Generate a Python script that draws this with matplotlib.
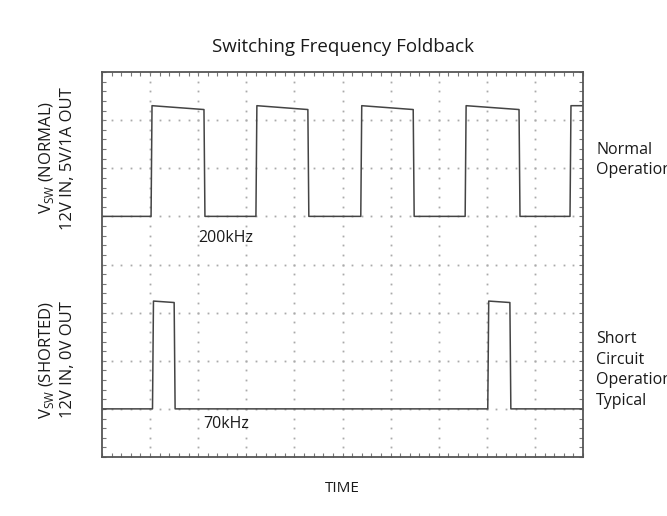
import matplotlib
matplotlib.use("Agg")
import matplotlib.pyplot as plt
import numpy as np
from matplotlib.ticker import MultipleLocator

plt.rcParams['font.family'] = ['Open Sans', 'DejaVu Sans']

# scope screen is 10 x 8 divisions, values read in divisions
n_xdiv = 10
n_ydiv = 8

# normal operation (200kHz) edges and levels
normal_edges = [1.02, 2.12, 3.20, 4.28, 5.38, 6.47, 7.55, 8.67, 9.73]
normal_low = 5.0
normal_high_start = 7.30
normal_high_end = 7.22

# shorted output (70kHz) edges and levels
short_edges = [1.05, 1.50, 8.02, 8.48]
short_low = 1.0
short_high_start = 3.24
short_high_end = 3.21

rise = 0.02  # edge width in divisions


def trace(edges, low, hi0, hi1):
    # square wave that starts low, toggling at each edge
    xs = [0.0]
    ys = [low]
    state = 0
    for e in edges:
        if state == 0:
            xs += [e, e + rise]
            ys += [low, hi0]
        else:
            xs += [e, e + rise]
            ys += [hi1, low]
        state = 1 - state
    xs.append(n_xdiv)
    ys.append(hi0 if state == 1 else low)
    return xs, ys


fig = plt.figure(figsize=(6.67, 5.16), dpi=100)
ax = fig.add_axes([102 / 667, 1 - 457 / 516, 481 / 667, 385 / 516])

# dotted graticule
dot_col = '#aaaaaa'
minor = np.arange(0, n_xdiv + 0.001, 0.2)
for gx in range(1, n_xdiv):
    yy = np.arange(0, n_ydiv + 0.001, 0.2)
    ax.plot(np.full_like(yy, gx), yy, ls='none', marker='s', ms=1.3, color=dot_col, mew=0)
for gy in range(1, n_ydiv):
    ax.plot(minor, np.full_like(minor, gy), ls='none', marker='s', ms=1.3, color=dot_col, mew=0)

tcol = '#444444'
x1, y1 = trace(normal_edges, normal_low, normal_high_start, normal_high_end)
ax.plot(x1, y1, color=tcol, lw=1.1)
x2, y2 = trace(short_edges, short_low, short_high_start, short_high_end)
ax.plot(x2, y2, color=tcol, lw=1.1)

ax.set_xlim(0, n_xdiv)
ax.set_ylim(0, n_ydiv)
ax.xaxis.set_major_locator(MultipleLocator(1))
ax.xaxis.set_minor_locator(MultipleLocator(0.2))
ax.yaxis.set_major_locator(MultipleLocator(1))
ax.yaxis.set_minor_locator(MultipleLocator(0.2))
ax.tick_params(which='both', direction='in', top=True, right=True,
               length=3, width=0.8, color='#777777',
               labelbottom=False, labelleft=False)
for s in ax.spines.values():
    s.set_color('#555555')
    s.set_linewidth(1.3)

txt = '#1a1a1a'
ax.text(2.0, 4.55, '200kHz', fontsize=11.5, color=txt, va='center')
ax.text(2.1, 0.68, '70kHz', fontsize=11.5, color=txt, va='center')

fig.text(0.5 * (102 + 583) / 667, 1 - 47 / 516, 'Switching Frequency Foldback',
         fontsize=13.5, ha='center', va='center', color=txt)
fig.text(0.5 * (102 + 583) / 667, 1 - 488 / 516, 'TIME',
         fontsize=11, ha='center', va='center', color=txt)

fig.text(47 / 667, 1 - 157 / 516, r'V$_{\mathregular{SW}}$ (NORMAL)', rotation=90,
         fontsize=12, ha='center', va='center', color=txt)
fig.text(68 / 667, 1 - 159 / 516, '12V IN, 5V/1A OUT', rotation=90,
         fontsize=12, ha='center', va='center', color=txt)
fig.text(47 / 667, 1 - 360 / 516, r'V$_{\mathregular{SW}}$ (SHORTED)', rotation=90,
         fontsize=12, ha='center', va='center', color=txt)
fig.text(68 / 667, 1 - 360 / 516, '12V IN, 0V OUT', rotation=90,
         fontsize=12, ha='center', va='center', color=txt)

fig.text(596 / 667, 1 - 160 / 516, 'Normal\nOperation', fontsize=11.5,
         ha='left', va='center', linespacing=1.4, color=txt)
fig.text(596 / 667, 1 - 370 / 516, 'Short\nCircuit\nOperation\nTypical', fontsize=11.5,
         ha='left', va='center', linespacing=1.4, color=txt)

fig.savefig('out.png', dpi=100, facecolor='white')
